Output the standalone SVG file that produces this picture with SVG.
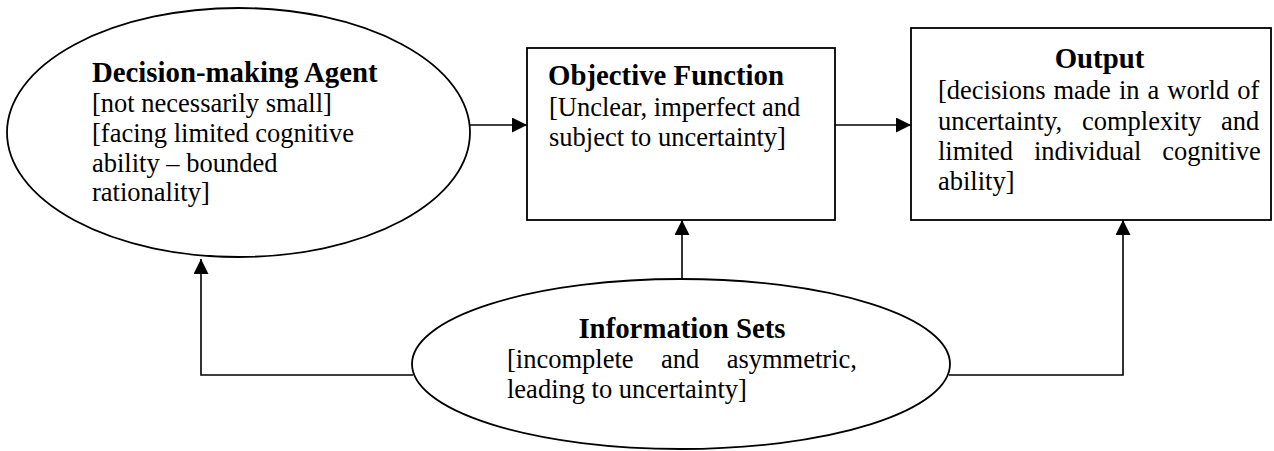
<svg xmlns="http://www.w3.org/2000/svg" width="1274" height="451" viewBox="0 0 1274 451">
<style>
.shape{fill:#fff;stroke:#000;stroke-width:1.8}
.conn{fill:none;stroke:#000;stroke-width:1.6}
text{font-family:"Liberation Serif","Times New Roman",serif;fill:#000}
.b{font-weight:bold;font-size:28.8px}
.r{font-size:26.5px}
</style>
<defs>
<marker id="arr" markerWidth="15" markerHeight="15" refX="15" refY="7.5" orient="auto" markerUnits="userSpaceOnUse">
<path d="M0,0 L15,7.5 L0,15 Z" fill="#000"/>
</marker>
</defs>
<rect width="1274" height="451" fill="#fff"/>
<g id="connectors">
<line class="conn" x1="470" y1="125" x2="527" y2="125" marker-end="url(#arr)"/>
<line class="conn" x1="835" y1="125" x2="911" y2="125" marker-end="url(#arr)"/>
<line class="conn" x1="682" y1="279" x2="682" y2="220" marker-end="url(#arr)"/>
<polyline class="conn" points="413,375 201,375 201,259" marker-end="url(#arr)"/>
<polyline class="conn" points="949,375 1123,375 1123,220" marker-end="url(#arr)"/>
</g>
<g id="agent">
<ellipse class="shape" cx="238.5" cy="132.5" rx="231.5" ry="124.5"/>
<text class="b" x="92" y="82">Decision-making Agent</text>
<text class="r" x="92" y="112">[not necessarily small]</text>
<text class="r" x="92" y="142">[facing limited cognitive</text>
<text class="r" x="92" y="172">ability – bounded</text>
<text class="r" x="92" y="201">rationality]</text>
</g>
<g id="objective">
<rect class="shape" x="527" y="48" width="308" height="172"/>
<text class="b" x="548" y="85">Objective Function</text>
<text class="r" x="549" y="116">[Unclear, imperfect and</text>
<text class="r" x="549" y="146">subject to uncertainty]</text>
</g>
<g id="output">
<rect class="shape" x="911" y="28" width="360" height="192"/>
<text class="b" x="1099.5" y="68" text-anchor="middle">Output</text>
<text class="r" x="938" y="99" style="word-spacing:1.4px">[decisions made in a world of</text>
<text class="r" x="938" y="130" style="word-spacing:13.2px">uncertainty, complexity and</text>
<text class="r" x="938" y="160" style="word-spacing:14.2px">limited individual cognitive</text>
<text class="r" x="938" y="190">ability]</text>
</g>
<g id="info">
<ellipse class="shape" cx="681" cy="364" rx="269" ry="85"/>
<text class="b" x="682" y="338" text-anchor="middle">Information Sets</text>
<text class="r" x="507" y="368" style="word-spacing:20.8px">[incomplete and asymmetric,</text>
<text class="r" x="507" y="398">leading to uncertainty]</text>
</g>
</svg>
